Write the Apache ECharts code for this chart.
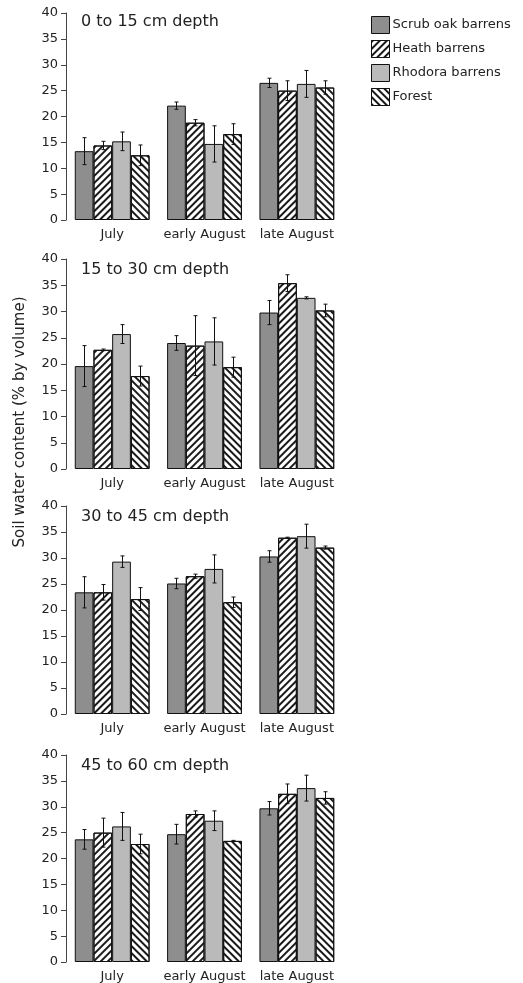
<!DOCTYPE html>
<html>
<head>
<meta charset="utf-8">
<script src="https://cdn.jsdelivr.net/npm/echarts@6/dist/echarts.min.js"></script>
<style>
html, body { margin: 0; padding: 0; background: #fff; }
#chart { width: 523px; height: 983px; }
</style>
</head>
<body>
<div id="chart"></div>
<script>
// 数据：每个深度一行，三个时期
var categories = ['July', 'early August', 'late August'];
var depthTitles = ['0 to 15 cm depth', '15 to 30 cm depth', '30 to 45 cm depth', '45 to 60 cm depth'];
var seriesNames = ['Scrub oak barrens', 'Heath barrens', 'Rhodora barrens', 'Forest'];

var scrubOak = [[13.3, 22.1, 26.5], [19.6, 24.0, 29.8], [23.4, 25.1, 30.3], [23.7, 24.7, 29.7]];
var scrubOakErr = [[2.6, 0.7, 0.9], [3.9, 1.4, 2.3], [3.0, 1.0, 1.1], [1.9, 1.9, 1.3]];
var heath = [[14.4, 18.8, 25.0], [22.7, 23.5, 35.4], [23.4, 26.5, 33.9], [25.0, 28.6, 32.5]];
var heathErr = [[0.8, 0.6, 1.9], [0.15, 5.7, 1.6], [1.5, 0.4, 0.1], [2.8, 0.6, 1.9]];
var rhodora = [[15.2, 14.7, 26.3], [25.7, 24.3, 32.6], [29.3, 27.9, 34.2], [26.2, 27.3, 33.6]];
var rhodoraErr = [[1.8, 3.5, 2.6], [1.8, 4.5, 0.2], [1.1, 2.7, 2.3], [2.7, 1.9, 2.5]];
var forest = [[12.5, 16.6, 25.6], [17.7, 19.4, 30.2], [22.1, 21.5, 32.0], [22.8, 23.4, 31.7]];
var forestErr = [[2.0, 2.0, 1.3], [1.9, 1.9, 1.2], [2.2, 1.0, 0.3], [1.9, 0.1, 1.2]];

var allValues = [scrubOak, heath, rhodora, forest];
var allErrors = [scrubOakErr, heathErr, rhodoraErr, forestErr];

var chart = echarts.init(document.getElementById('chart'));
var FONT = 'DejaVu Sans';
var gridTops = [13, 259, 506, 755];
var gridHeights = [207, 210, 208, 207];
var catGap = 0.19;

var barStyles = [
    {color: '#8e8e8e', borderColor: '#111', borderWidth: 1},
    {color: '#fff', borderColor: '#111', borderWidth: 1,
        decal: {symbol: 'rect', dashArrayX: [1, 0], dashArrayY: [1.4, 2.4], symbolSize: 1, rotation: -Math.PI / 4, color: '#1a1a1a'}},
    {color: '#bababa', borderColor: '#111', borderWidth: 1},
    {color: '#fff', borderColor: '#111', borderWidth: 1,
        decal: {symbol: 'rect', dashArrayX: [1, 0], dashArrayY: [1.4, 2.4], symbolSize: 1, rotation: Math.PI / 4, color: '#1a1a1a'}}
];

var grids = [], xAxes = [], yAxes = [], titles = [], series = [];

for (var p = 0; p < 4; p++) {
    grids.push({left: 66, right: 180, top: gridTops[p], height: gridHeights[p]});
    titles.push({
        text: depthTitles[p], left: 76, top: gridTops[p] + (p === 0 ? -4 : -2),
        textStyle: {fontFamily: FONT, fontSize: 16, fontWeight: 'normal', color: '#222'}
    });
    xAxes.push({
        type: 'category', gridIndex: p, data: categories,
        axisLine: {show: false}, axisTick: {show: false},
        axisLabel: {interval: 0, hideOverlap: false, fontFamily: FONT, fontSize: 13, color: '#222', margin: 8}
    });
    yAxes.push({
        type: 'value', gridIndex: p, min: 0, max: 40, interval: 5,
        splitLine: {show: false},
        axisLine: {show: true, lineStyle: {color: '#444', width: 1}},
        axisTick: {show: true, length: 5, lineStyle: {color: '#444'}},
        axisLabel: {fontFamily: FONT, fontSize: 13, color: '#222', margin: 8}
    });
    for (var s = 0; s < 4; s++) {
        series.push({
            name: seriesNames[s], type: 'bar', xAxisIndex: p, yAxisIndex: p,
            data: allValues[s][p],
            barGap: '0%', barCategoryGap: (catGap * 100) + '%',
            itemStyle: barStyles[s],
            emphasis: {disabled: true},
            animation: false
        });
    }
    // 误差线
    var errData = [];
    for (var s2 = 0; s2 < 4; s2++) {
        for (var c = 0; c < categories.length; c++) {
            var v = allValues[s2][p][c], e = allErrors[s2][p][c];
            errData.push([c, v - e, v + e, s2]);
        }
    }
    series.push({
        type: 'custom', xAxisIndex: p, yAxisIndex: p, z: 10,
        data: errData,
        encode: {x: 0, y: [1, 2]},
        animation: false,
        silent: true,
        renderItem: function (params, api) {
            var band = api.size([1, 0])[0];
            var groupW = band * (1 - catGap);
            var barW = groupW / 4;
            var lo = api.coord([api.value(0), api.value(1)]);
            var hi = api.coord([api.value(0), api.value(2)]);
            var x = Math.round(lo[0] - groupW / 2 + barW * (api.value(3) + 0.5)) + 0.5;
            var style = {stroke: '#111', lineWidth: 1};
            return {
                type: 'group',
                children: [
                    {type: 'line', shape: {x1: x, y1: hi[1], x2: x, y2: lo[1]}, style: style},
                    {type: 'line', shape: {x1: x - 2, y1: hi[1], x2: x + 2, y2: hi[1]}, style: style},
                    {type: 'line', shape: {x1: x - 2, y1: lo[1], x2: x + 2, y2: lo[1]}, style: style}
                ]
            };
        }
    });
}

var option = {
    backgroundColor: '#fff',
    animation: false,
    title: titles,
    legend: {
        data: seriesNames, orient: 'vertical', left: 366, top: 11,
        icon: 'rect',
        itemWidth: 18, itemHeight: 17, itemGap: 6,
        selectedMode: false,
        itemStyle: {borderColor: '#111', borderWidth: 1},
        textStyle: {fontFamily: FONT, fontSize: 13, color: '#222', padding: [0, 0, 0, -2]}
    },
    grid: grids,
    xAxis: xAxes,
    yAxis: yAxes,
    series: series,
    graphic: [{
        type: 'text',
        x: 20, y: 422, rotation: Math.PI / 2,
        style: {text: 'Soil water content (% by volume)', fontFamily: FONT, fontSize: 15, fill: '#222', textAlign: 'center', textVerticalAlign: 'middle'}
    }]
};

chart.setOption(option);
</script>
</body>
</html>
